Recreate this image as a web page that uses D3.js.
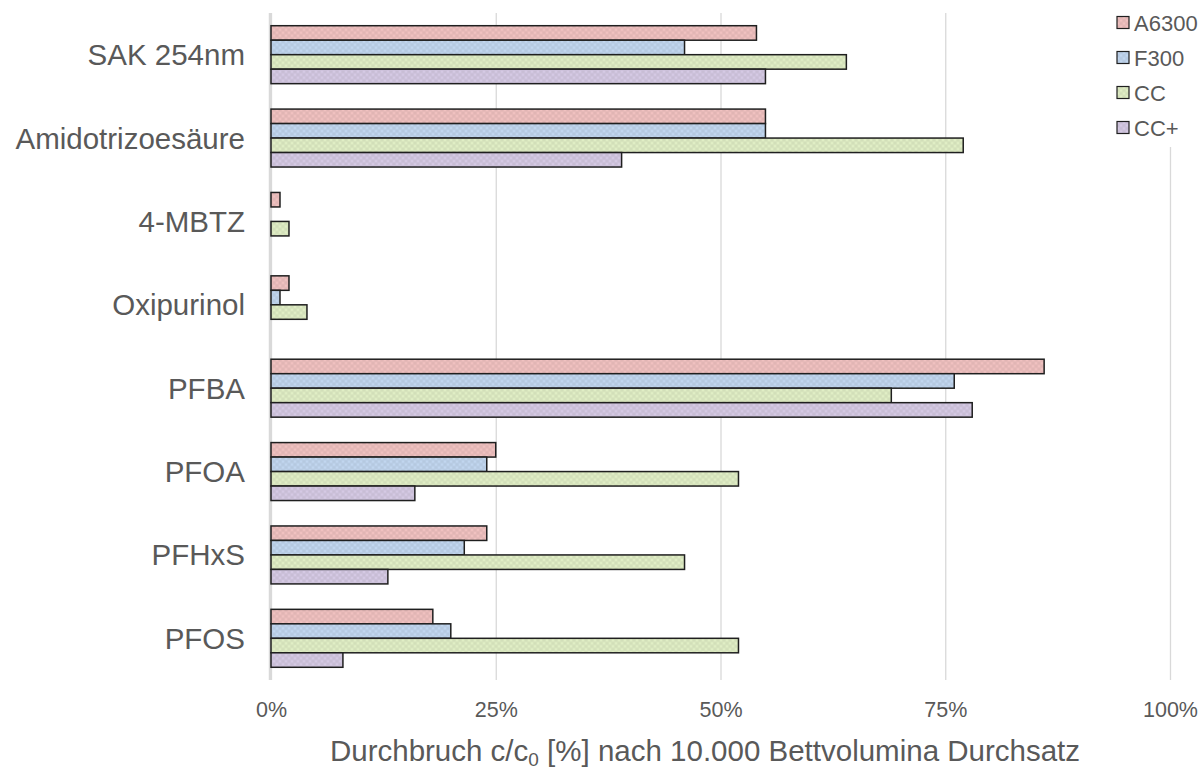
<!DOCTYPE html>
<html>
<head>
<meta charset="utf-8">
<script src="https://cdn.jsdelivr.net/npm/d3@7"></script>
<style>
  html, body { margin: 0; padding: 0; background: #fff; }
  svg { display: block; font-family: "Liberation Sans", Arial, sans-serif; }
</style>
</head>
<body>
<svg id="chart" width="1203" height="769"></svg>
<script>
// Substances (top to bottom)
const categories = ["SAK 254nm", "Amidotrizoesäure", "4-MBTZ", "Oxipurinol", "PFBA", "PFOA", "PFHxS", "PFOS"];
// Filter materials
const seriesNames = ["A6300", "F300", "CC", "CC+"];
// Breakthrough c/c0 in % after 10,000 bed volumes, one array per material
const valuesA6300 = [54, 55, 1, 2, 86, 25, 24, 18];
const valuesF300  = [46, 55, 0, 1, 76, 24, 21.5, 20];
const valuesCC    = [64, 77, 2, 4, 69, 52, 46, 52];
const valuesCCplus = [55, 39, 0, 0, 78, 16, 13, 8];
const tickValues = [0, 25, 50, 75, 100];
const tickLabels = ["0%", "25%", "50%", "75%", "100%"];
const seriesColors = ["#e6b9b8", "#b9cde5", "#d7e4bd", "#ccc1da"];

const seriesValues = [valuesA6300, valuesF300, valuesCC, valuesCCplus];

const svg = d3.select("#chart");
const margin = { left: 271, right: 33, top: 13, bottom: 89 };
const W = 1203, H = 769;

const x = d3.scaleLinear().domain([0, 100]).range([margin.left, W - margin.right]);
const y = d3.scaleBand().domain(categories).range([margin.top, H - margin.bottom])
  .paddingInner(0.305).paddingOuter(0.1525);
const ySub = d3.scaleBand().domain(seriesNames).range([0, y.bandwidth()]).padding(0);

// Faint woven texture for the bar fills
const defs = svg.append("defs");
seriesColors.forEach((c, i) => {
  const p = defs.append("pattern").attr("id", "tex" + i)
    .attr("width", 6).attr("height", 6).attr("patternUnits", "userSpaceOnUse");
  p.append("rect").attr("width", 6).attr("height", 6).attr("fill", c);
  const light = d3.color(c).brighter(0.12);
  const dark = d3.color(c).darker(0.06);
  [[0, 0], [3, 3]].forEach(([px, py]) =>
    p.append("rect").attr("x", px).attr("y", py).attr("width", 2).attr("height", 2).attr("fill", light));
  [[3, 0], [0, 3]].forEach(([px, py]) =>
    p.append("rect").attr("x", px).attr("y", py).attr("width", 2).attr("height", 2).attr("fill", dark));
});

// Vertical gridlines
const xAxis = d3.axisBottom(x).tickValues(tickValues)
  .tickFormat((d, i) => tickLabels[i]).tickSize(-(H - margin.bottom - margin.top)).tickPadding(0);
const gx = svg.append("g").attr("transform", `translate(0,${H - margin.bottom})`).call(xAxis);
gx.select(".domain").remove();
gx.selectAll(".tick line").attr("stroke", "#d9d9d9").attr("stroke-width", 1.3);
gx.selectAll(".tick text").attr("fill", "#595959").attr("font-size", "21.5px")
  .attr("dy", 0).attr("y", 37).attr("dominant-baseline", "alphabetic");

// Category axis line
svg.append("line").attr("x1", x(0) - 1).attr("x2", x(0) - 1)
  .attr("y1", margin.top).attr("y2", H - margin.bottom)
  .attr("stroke", "#d9d9d9").attr("stroke-width", 2.5);

// Bars
const groups = svg.append("g").selectAll("g").data(categories).join("g")
  .attr("transform", d => `translate(0,${y(d)})`);
groups.selectAll("rect")
  .data((d, ci) => seriesNames.map((s, si) => ({ s, si, v: seriesValues[si][ci] })).filter(e => e.v > 0))
  .join("rect")
  .attr("x", x(0))
  .attr("y", d => ySub(d.s))
  .attr("width", d => x(d.v) - x(0))
  .attr("height", ySub.bandwidth())
  .attr("fill", d => `url(#tex${d.si})`)
  .attr("stroke", "#1f1f1f").attr("stroke-width", 1.5);

// Category labels
svg.append("g").selectAll("text").data(categories).join("text")
  .attr("x", 245)
  .attr("y", d => y(d) + y.bandwidth() / 2 + 10.5)
  .attr("text-anchor", "end")
  .attr("fill", "#595959").attr("font-size", "29.5px")
  .text(d => d);

// Axis title with subscript
const title = svg.append("text").attr("x", 705).attr("y", 761)
  .attr("text-anchor", "middle").attr("fill", "#595959").attr("font-size", "29.5px");
title.append("tspan").text("Durchbruch c/c");
title.append("tspan").attr("font-size", "19px").attr("dy", 5).text("0");
title.append("tspan").attr("dy", -5).text(" [%] nach 10.000 Bettvolumina Durchsatz");

// Legend
const legend = svg.append("g");
legend.append("rect").attr("x", 1110).attr("y", 5).attr("width", 93).attr("height", 142).attr("fill", "#fff");
const items = legend.selectAll("g").data(seriesNames).join("g")
  .attr("transform", (d, i) => `translate(1117,${22.5 + i * 35})`);
items.append("rect").attr("x", 0).attr("y", -6).attr("width", 12).attr("height", 12)
  .attr("fill", (d, i) => `url(#tex${i})`).attr("stroke", "#1f1f1f").attr("stroke-width", 1.2);
items.append("text").attr("x", 17).attr("y", 8).attr("fill", "#595959").attr("font-size", "22px").text(d => d);
</script>
</body>
</html>
